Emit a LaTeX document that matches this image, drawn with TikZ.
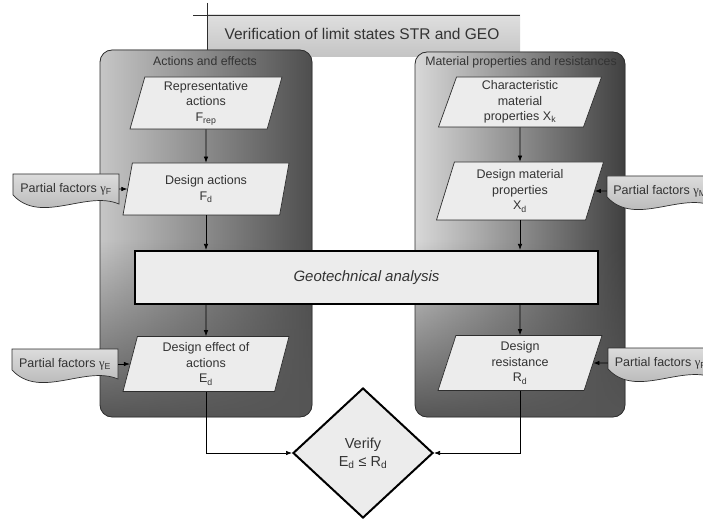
\documentclass[tikz,border=0pt]{standalone}
\usepackage{fontspec}
\setmainfont{Liberation Sans}
\newfontfamily\greekserif{Liberation Serif}
\usetikzlibrary{shapes.geometric,arrows.meta,fadings,calc}

\definecolor{ink}{HTML}{333333}
\definecolor{edge}{HTML}{2E2E2E}
\definecolor{boxfill}{HTML}{ECECEC}
\definecolor{panLight}{HTML}{C6C6C6}
\definecolor{panDark}{HTML}{4E4E4E}
\definecolor{panLightR}{HTML}{D8D8D8}
\definecolor{panDarkR}{HTML}{404040}
\definecolor{panBottom}{HTML}{565656}
\definecolor{docTop}{HTML}{DCDCDC}
\definecolor{docBot}{HTML}{ABABAB}
\definecolor{headTop}{HTML}{DFDFDF}
\definecolor{headBot}{HTML}{C4C4C4}

\tikzfading[name=fadedown, top color=transparent!100, bottom color=transparent!0]

\pgfdeclarelayer{bg}
\pgfdeclarelayer{mid}
\pgfsetlayers{bg,mid,main}

\newcommand\gam[1]{{\greekserif γ}\textsubscript{#1}}

% wavy "document" outline around a centre (cx,cy), 106 wide
\newcommand\docoutline[2]{(#1-53,#2-15) -- (#1+53,#2-15) -- (#1+53,#2+15)
  .. controls (#1+20,#2+1) and (#1-25,#2+36) .. (#1-53,#2+6) -- cycle}

\begin{document}
\begin{tikzpicture}[x=1pt,y=-1pt,
  arr/.style={draw=black, line width=0.7pt, -{Latex[length=6pt,width=4.5pt]}},
  para/.style={trapezium, trapezium stretches body, draw=edge, line width=0.7pt,
    fill=boxfill, text=ink, align=center, inner sep=1pt,
    font=\fontsize{12.5}{15.5}\selectfont},
  paraL/.style={para, trapezium left angle=72, trapezium right angle=108},
  paraR/.style={para, trapezium left angle=68, trapezium right angle=112},
  docbox/.style={rectangle, draw=none, inner sep=0pt, minimum width=106pt,
    minimum height=30pt, text=ink, font=\fontsize{12.5}{15}\selectfont},
  docshape/.style={draw=edge, line width=0.7pt, top color=docTop, bottom color=docBot},
  header/.style={text=ink, font=\fontsize{12.3}{14}\selectfont},
  panel/.style={rounded corners=12pt},
  panelline/.style={draw=edge, line width=0.8pt, rounded corners=12pt},
  analysis/.style={rectangle, draw=black, line width=2.2pt, fill=boxfill, text=ink,
    minimum width=463pt, minimum height=53pt,
    font=\fontsize{15}{18}\selectfont\itshape},
  verify/.style={diamond, draw=black, line width=2pt, fill=boxfill, text=ink,
    align=center, inner sep=0pt, minimum width=140pt, minimum height=130pt,
    font=\fontsize{14.5}{18}\selectfont}
]
\useasboundingbox (0,0) rectangle (703,521);
\clip (0,0) rectangle (703,521);

\begin{pgfonlayer}{bg}
  \fill[white] (0,0) rectangle (703,521);
  % title banner
  \fill[top color=headTop, bottom color=headBot] (207,15) rectangle (520,57);
  \draw[edge, line width=0.8pt] (193,15) -- (520,15);
  \draw[edge, line width=0.8pt] (207,3) -- (207,57);
  % left panel: actions and effects
  \fill[panel, left color=panLight, right color=panDark] (100,50) rectangle (312,417);
  \begin{scope}
    \clip[panel] (100,50) rectangle (312,417);
    \fill[panBottom, path fading=fadedown] (100,240) rectangle (312,417);
  \end{scope}
  \draw[panelline] (100,50) rectangle (312,417);
  % right panel: material properties and resistances
  \fill[panel, left color=panLightR, right color=panDarkR] (415,52) rectangle (625,417);
  \begin{scope}
    \clip[panel] (415,52) rectangle (625,417);
    \fill[panBottom, path fading=fadedown] (415,240) rectangle (625,417);
  \end{scope}
  \draw[panelline] (415,52) rectangle (625,417);
\end{pgfonlayer}

\begin{pgfonlayer}{mid}
  \draw[docshape] \docoutline{66}{189};
  \draw[docshape] \docoutline{65}{364};
  \draw[docshape] \docoutline{660}{191};
  \draw[docshape] \docoutline{661}{363};
\end{pgfonlayer}

% texts of the frame
\node[text=ink, font=\fontsize{15.5}{19}\selectfont] (title) at (362,34)
  {Verification of limit states STR and GEO};
\node[header] (hdrL) at (205,61) {Actions and effects};
\node[header] (hdrR) at (521,62) {Material properties and resistances};

% left column
\node[paraL, minimum width=152pt, minimum height=52pt] (rep) at (206,103)
  {Representative\\actions\\F\textsubscript{rep}};
\node[paraL, minimum width=166pt, minimum height=52pt] (da) at (206,189)
  {Design actions\\F\textsubscript{d}};
\node[paraL, minimum width=166pt, minimum height=55pt] (eff) at (206,364)
  {Design effect of\\actions\\E\textsubscript{d}};

% right column
\node[paraR, minimum width=163pt, minimum height=50pt] (xk) at (520,102)
  {Characteristic\\material\\properties X\textsubscript{k}};
\node[paraR, minimum width=167pt, minimum height=58pt] (xd) at (520,191)
  {Design material\\properties\\X\textsubscript{d}};
\node[paraR, minimum width=164pt, minimum height=55pt] (rd) at (520,363)
  {Design\\resistance\\R\textsubscript{d}};

% analysis and verification
\node[analysis] (geo) at (366.5,277.5) {Geotechnical analysis};
\node[verify] (ver) at (363,453) {Verify\\E\textsubscript{d} ≤ R\textsubscript{d}};

% partial factors
\node[docbox] (pfF) at (66,189) {Partial factors \gam{F}};
\node[docbox] (pfE) at (65,364) {Partial factors \gam{E}};
\node[docbox] (pfM) at (660,191) {Partial factors \gam{M}};
\node[docbox] (pfR) at (661,363) {Partial factors \gam{R}};

% connectors
\draw[arr] (rep) -- (da);
\draw[arr] (da.south) -- (da.south |- geo.north);
\draw[arr] (da.south |- geo.south) -- (eff.north);
\draw[arr] (xk) -- (xd);
\draw[arr] (xd.south) -- (xd.south |- geo.north);
\draw[arr] (xd.south |- geo.south) -- (rd.north);
\draw[arr] (pfF) -- (da);
\draw[arr] (pfE) -- (eff);
\draw[arr] (pfM) -- (xd);
\draw[arr] (pfR) -- (rd);
\draw[arr] (eff.south) |- (ver.west);
\draw[arr] (rd.south) |- (ver.east);
\end{tikzpicture}
\end{document}
